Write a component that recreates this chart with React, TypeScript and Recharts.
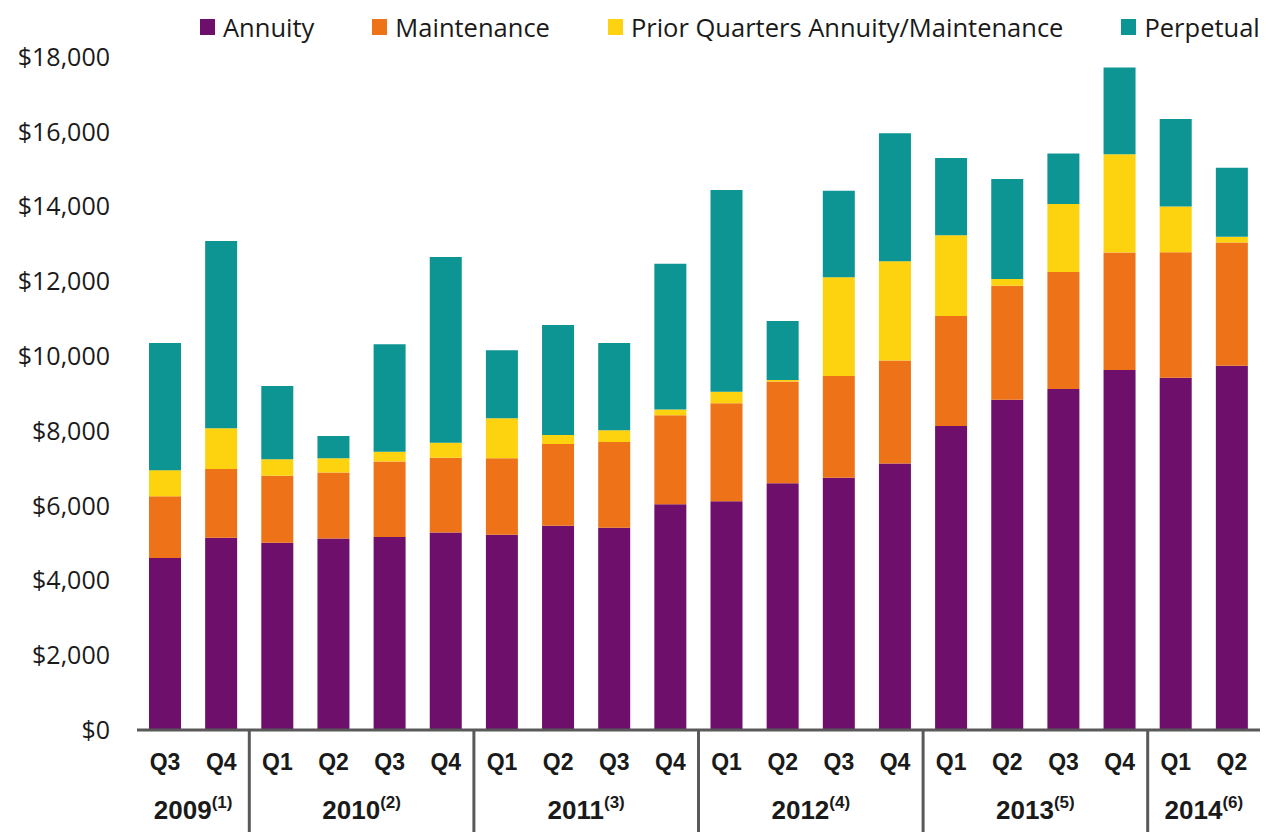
import { BarChart, Bar, XAxis, YAxis, Legend } from 'recharts';

// ── Data (USD thousands) ─────────────────────────────────────────────────────

const QUARTERS = ['Q3', 'Q4', 'Q1', 'Q2', 'Q3', 'Q4', 'Q1', 'Q2', 'Q3', 'Q4', 'Q1', 'Q2', 'Q3', 'Q4', 'Q1', 'Q2', 'Q3', 'Q4', 'Q1', 'Q2'];
const YEARS = ['2009', '2009', '2010', '2010', '2010', '2010', '2011', '2011', '2011', '2011', '2012', '2012', '2012', '2012', '2013', '2013', '2013', '2013', '2014', '2014'];
const YEAR_NOTES: Record<string, string> = { '2009': '(1)', '2010': '(2)', '2011': '(3)', '2012': '(4)', '2013': '(5)', '2014': '(6)' };

const ANNUITY = [4600, 5140, 5010, 5120, 5160, 5280, 5220, 5460, 5410, 6040, 6120, 6600, 6750, 7130, 8130, 8830, 9120, 9630, 9420, 9740];
const MAINTENANCE = [1650, 1840, 1790, 1770, 2020, 2000, 2050, 2190, 2290, 2380, 2620, 2720, 2720, 2750, 2940, 3050, 3130, 3140, 3360, 3300];
const PRIOR_QUARTERS = [700, 1090, 440, 380, 260, 400, 1070, 240, 320, 150, 310, 40, 2640, 2660, 2160, 180, 1820, 2630, 1220, 150];
const PERPETUAL = [3400, 5010, 1960, 590, 2880, 4970, 1820, 2940, 2330, 3900, 5390, 1580, 2310, 3420, 2070, 2680, 1350, 2320, 2340, 1850];

const Y_TICKS = [0, 2000, 4000, 6000, 8000, 10000, 12000, 14000, 16000, 18000];

const SERIES = [
  { key: 'annuity', name: 'Annuity', color: '#6d0f6b' },
  { key: 'maintenance', name: 'Maintenance', color: '#ee7318' },
  { key: 'prior', name: 'Prior Quarters Annuity/Maintenance', color: '#fdd20f' },
  { key: 'perpetual', name: 'Perpetual', color: '#0d9593' },
];

const data = QUARTERS.map((q, i) => ({
  id: `${YEARS[i]} ${q}`,
  annuity: ANNUITY[i],
  maintenance: MAINTENANCE[i],
  prior: PRIOR_QUARTERS[i],
  perpetual: PERPETUAL[i],
}));

// ── Layout ────────────────────────────────────────────────────────────────────

const WIDTH = 1268;
const HEIGHT = 832;
const Y_AXIS_W = 137;
const RIGHT = 8;
const BAND = (WIDTH - Y_AXIS_W - RIGHT) / QUARTERS.length;
const AXIS_GREY = '#595959';

// ── Custom ticks & legend ─────────────────────────────────────────────────────

function QuarterTick(props: any) {
  const { x, y, payload } = props;
  const i = payload.index;
  const year = YEARS[i];
  const first = i === 0 || YEARS[i - 1] !== year;
  const groupSize = YEARS.filter(v => v === year).length;
  const x0 = x - BAND / 2;
  return (
    <g>
      <text
        x={x}
        y={y + 40}
        textAnchor="middle"
        fontFamily="'Liberation Sans', Arial, sans-serif"
        fontWeight="bold"
        fontSize={23}
        fill="#1a1a1a"
      >
        {QUARTERS[i]}
      </text>
      {first && i > 0 && (
        <line x1={x0} x2={x0} y1={y} y2={y + 110} stroke={AXIS_GREY} strokeWidth={3} />
      )}
      {first && (
        <text
          x={x0 + (groupSize * BAND) / 2}
          y={y + 89}
          textAnchor="middle"
          fontFamily="'Liberation Sans', Arial, sans-serif"
          fontWeight="bold"
          fontSize={26}
          fill="#1a1a1a"
        >
          {year}
          <tspan dy={-11} fontSize={17}>{YEAR_NOTES[year]}</tspan>
        </text>
      )}
    </g>
  );
}

function TopLegend() {
  return (
    <div style={{ display: 'flex', alignItems: 'center', paddingLeft: 200, gap: 58, whiteSpace: 'nowrap' }}>
      {SERIES.map(s => (
        <div key={s.key} style={{ display: 'flex', alignItems: 'center', flexShrink: 0 }}>
          <span style={{ width: 15, height: 16, background: s.color, marginRight: 8, display: 'inline-block' }} />
          <span style={{ fontFamily: "'Open Sans', sans-serif", fontSize: 25.5, color: '#1a1a1a', lineHeight: '34px' }}>
            {s.name}
          </span>
        </div>
      ))}
    </div>
  );
}

// ── Component ─────────────────────────────────────────────────────────────────

export default function App() {
  return (
    <div style={{ position: 'absolute', left: 0, top: 0, width: WIDTH, height: HEIGHT, background: '#fff' }}>
      <BarChart
        width={WIDTH}
        height={HEIGHT}
        data={data}
        margin={{ top: 57, right: RIGHT, left: 0, bottom: 0 }}
        barSize={32}
      >
        <XAxis
          dataKey="id"
          interval={0}
          height={102}
          tickSize={0}
          tickMargin={0}
          tickLine={false}
          axisLine={{ stroke: AXIS_GREY, strokeWidth: 3 }}
          tick={<QuarterTick />}
        />
        <YAxis
          width={Y_AXIS_W}
          domain={[0, 18000]}
          ticks={Y_TICKS}
          interval={0}
          axisLine={false}
          tickLine={false}
          tickSize={0}
          tickMargin={27}
          tickFormatter={v => `$${v.toLocaleString('en-US')}`}
          tick={{ fill: '#1a1a1a', fontSize: 25, fontFamily: "'Open Sans', sans-serif" }}
        />
        <Legend
          verticalAlign="middle"
          content={<TopLegend />}
          wrapperStyle={{ top: 10, left: 0, width: WIDTH }}
        />
        {SERIES.map(s => (
          <Bar
            key={s.key}
            dataKey={s.key}
            name={s.name}
            stackId="rev"
            fill={s.color}
            isAnimationActive={false}
          />
        ))}
      </BarChart>
    </div>
  );
}
